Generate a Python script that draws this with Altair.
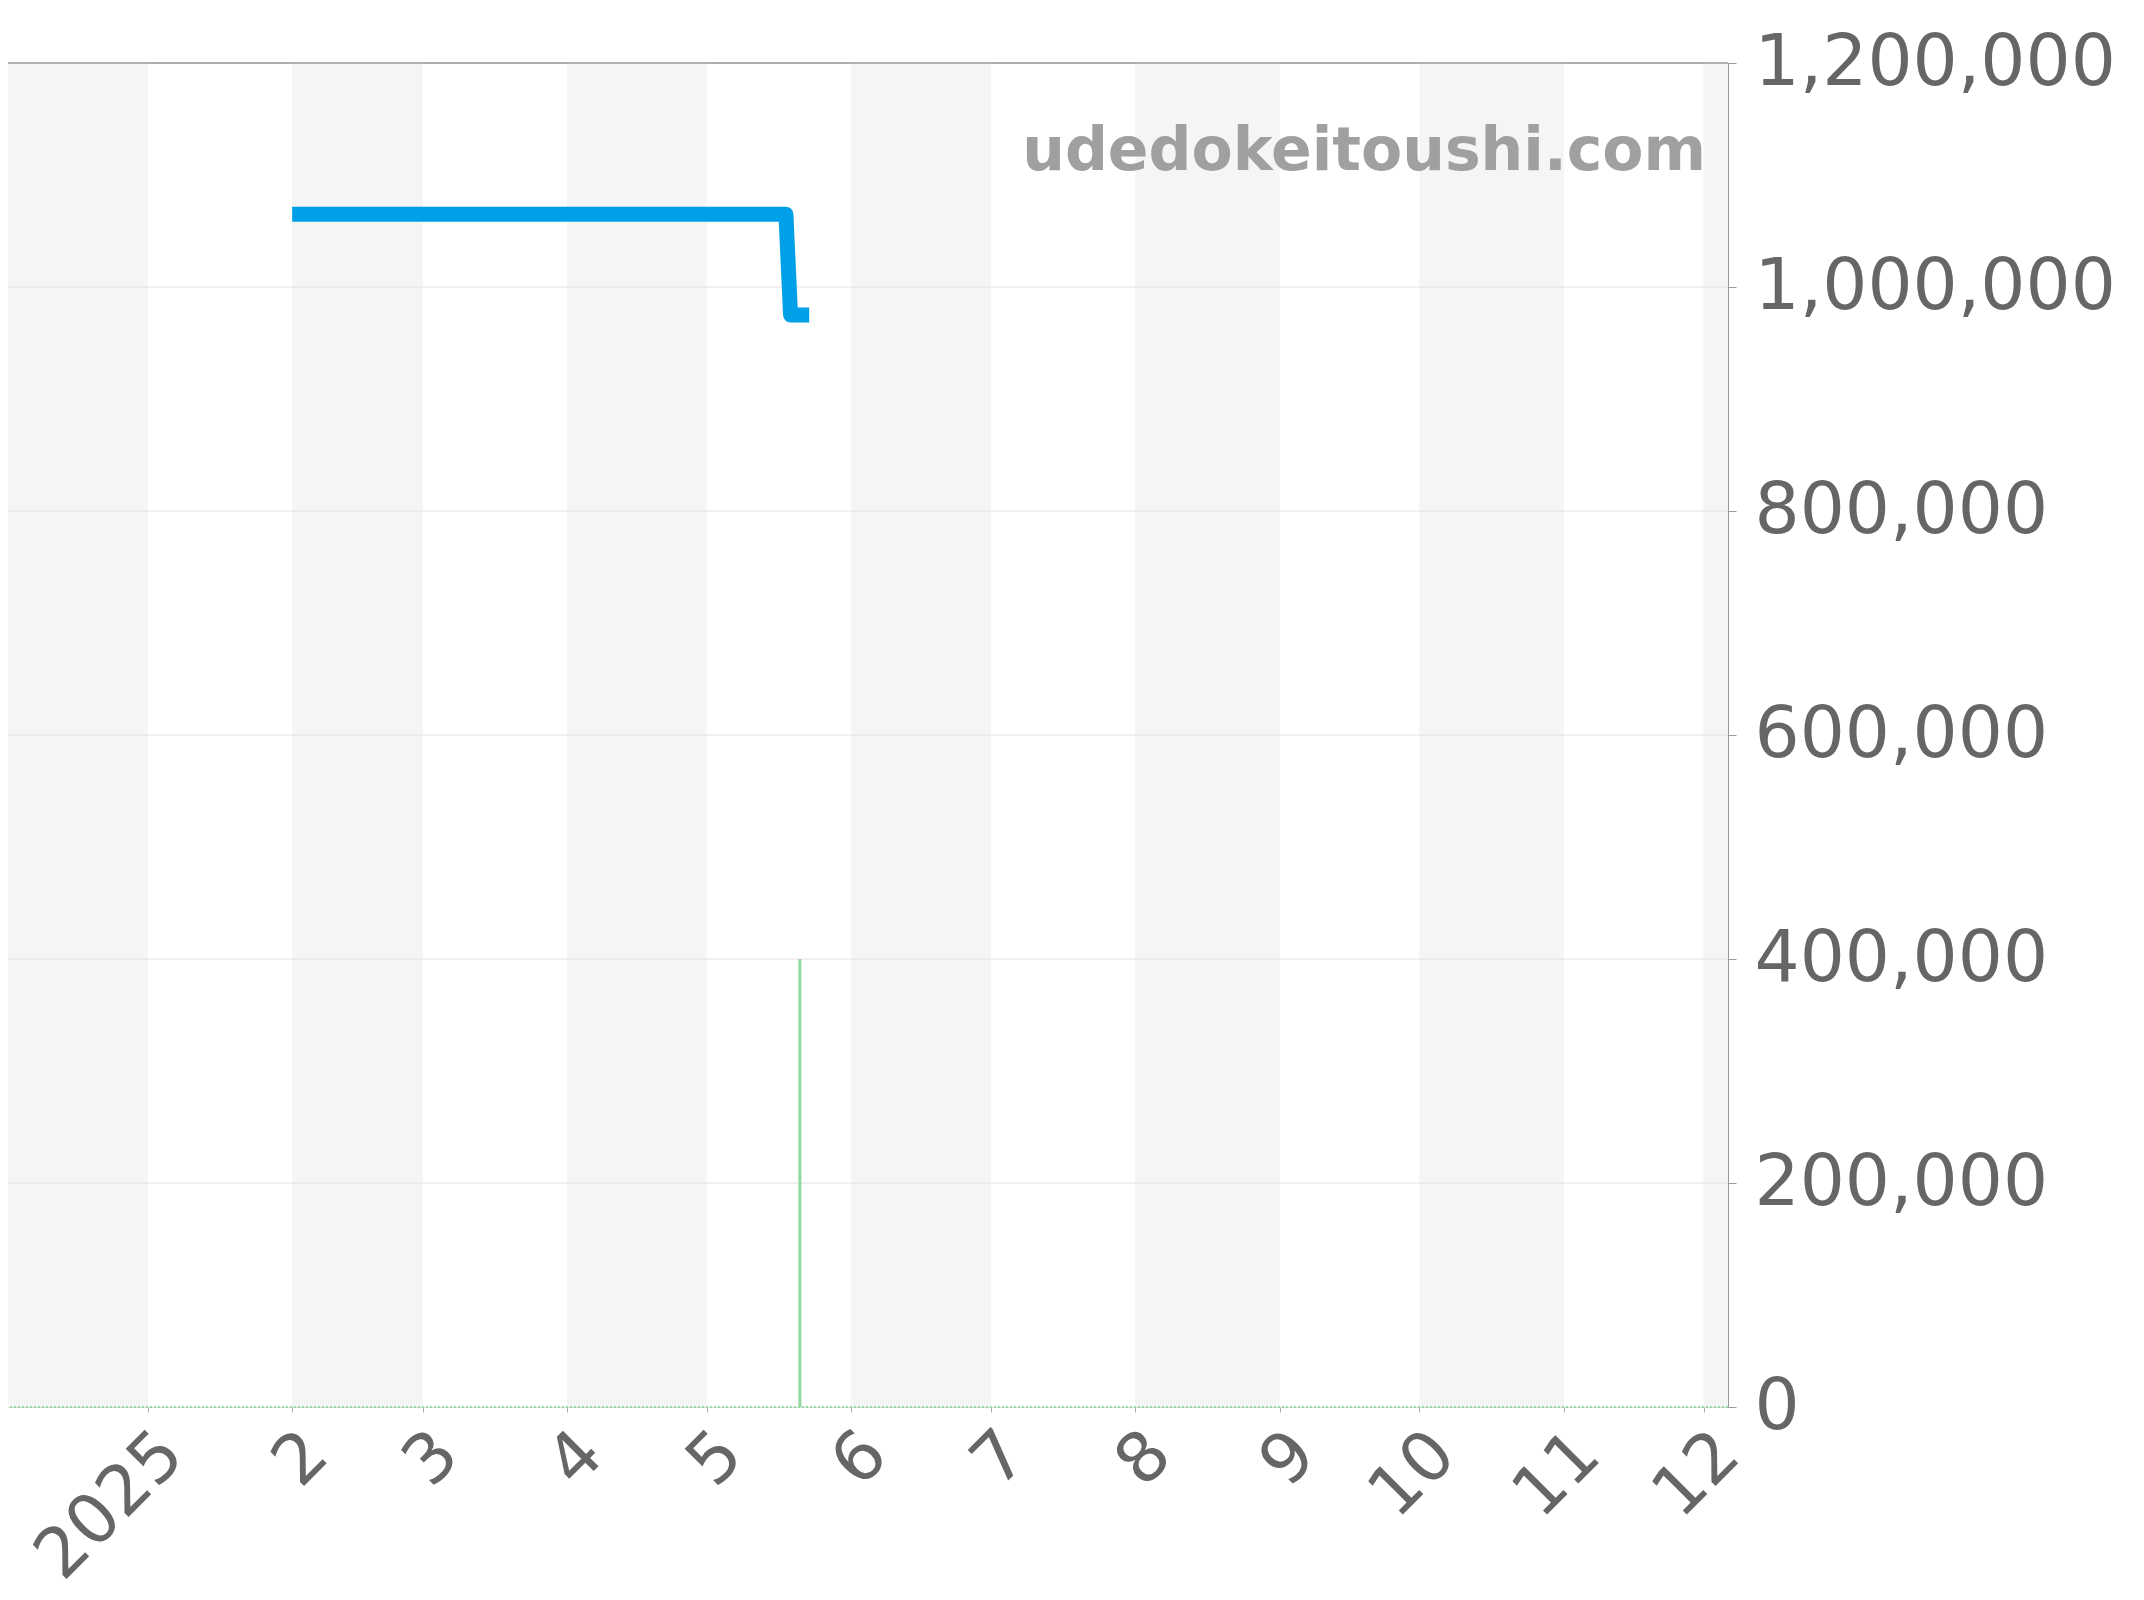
import altair as alt
import pandas as pd

# ---- data ----
price_dates = ["2025-02-01T00:00:00", "2025-05-18T00:00:00", "2025-05-19T00:00:00", "2025-05-23T00:00:00"]
price_values = [1065000, 1065000, 975000, 975000]

spike_dates = ["2025-05-21T00:00:00"]
spike_values = [400000]

band_starts = ["2024-12-01T00:00:00", "2025-02-01T00:00:00", "2025-04-01T00:00:00",
               "2025-06-01T00:00:00", "2025-08-01T00:00:00", "2025-10-01T00:00:00",
               "2025-12-01T00:00:00"]
band_ends = ["2025-01-01T00:00:00", "2025-03-01T00:00:00", "2025-05-01T00:00:00",
             "2025-07-01T00:00:00", "2025-09-01T00:00:00", "2025-11-01T00:00:00",
             "2026-01-01T00:00:00"]

y_ticks = [0, 200000, 400000, 600000, 800000, 1000000, 1200000]
tick_months = list(range(1, 13))
watermark = "udedokeitoushi.com"

FONT = "DejaVu Sans"
W, H = 1720, 1344

price_df = pd.DataFrame({"date": price_dates, "price": price_values})
spike_df = pd.DataFrame({"date": spike_dates, "value": spike_values})
band_df = pd.DataFrame({"start": band_starts, "end": band_ends})
grid_df = pd.DataFrame({"y": y_ticks[1:-1]})

x_scale = alt.Scale(domain=[alt.DateTime(year=2024, month=12, date=2),
                            alt.DateTime(year=2025, month=12, date=6, hours=6)])
y_scale = alt.Scale(domain=[0, 1200000], nice=False)

x_axis = alt.Axis(
    values=[alt.DateTime(year=2025, month=m, date=1) for m in tick_months],
    labelExpr="month(datum.value) == 0 ? '' + year(datum.value) : '' + (month(datum.value) + 1)",
    labelAngle=-45, labelFontSize=69, labelColor="#666666", labelFont=FONT,
    labelPadding=7, tickSize=5, tickColor="#aaaaaa", domain=False, grid=False,
    title=None, labelOverlap=False, labelLimit=0,
)
y_axis = alt.Axis(
    orient="right", values=y_ticks, format=",.0f", labelFontSize=71, labelColor="#666666",
    labelFont=FONT, labelPadding=18, tickSize=8, tickColor="#999999",
    domainColor="#999999", grid=False, title=None, labelOverlap=False, labelLimit=0,
)

bands = alt.Chart(band_df).mark_rect(color="#f5f5f5", clip=True).encode(
    x=alt.X("start:T", scale=x_scale, axis=x_axis),
    x2="end:T",
    y=alt.value(0), y2=alt.value(H),
)

grid = alt.Chart(grid_df).mark_rule(color="#e2e2e2", strokeWidth=1).encode(
    y=alt.Y("y:Q", scale=y_scale, axis=y_axis)
)

top_rule = alt.Chart(pd.DataFrame({"y": [y_ticks[-1]]})).mark_rule(
    color="#999999", strokeWidth=1.5).encode(y=alt.Y("y:Q", scale=y_scale, axis=y_axis))

base_rule = alt.Chart(pd.DataFrame({"y": [0]})).mark_rule(
    color="#9ad9a2", strokeWidth=2, strokeDash=[2, 2]).encode(y=alt.Y("y:Q", scale=y_scale, axis=y_axis))

spike = alt.Chart(spike_df).mark_rule(color="#90d89b", strokeWidth=3, clip=True).encode(
    x=alt.X("date:T", scale=x_scale, axis=x_axis),
    y=alt.Y("value:Q", scale=y_scale, axis=y_axis),
    y2=alt.datum(0),
)

line = alt.Chart(price_df).mark_line(
    color="#00a0e9", strokeWidth=15, strokeCap="butt", strokeJoin="round", clip=True
).encode(
    x=alt.X("date:T", scale=x_scale, axis=x_axis),
    y=alt.Y("price:Q", scale=y_scale, axis=y_axis),
)

wm = alt.Chart(pd.DataFrame({"t": [watermark]})).mark_text(
    font=FONT, fontWeight="bold", fontSize=60, color="#a0a0a0",
    align="right", baseline="alphabetic"
).encode(text="t:N", x=alt.value(W - 22), y=alt.value(107))

chart = alt.layer(bands, grid, top_rule, base_rule, spike, line, wm).properties(
    width=W, height=H,
    autosize=alt.AutoSizeParams(type="none"),
    padding={"left": 0, "top": 55, "right": 408, "bottom": 185},
).configure_view(stroke=None).configure(background="white")

chart.save("out.html", embed_options={"renderer": "svg", "actions": False})
